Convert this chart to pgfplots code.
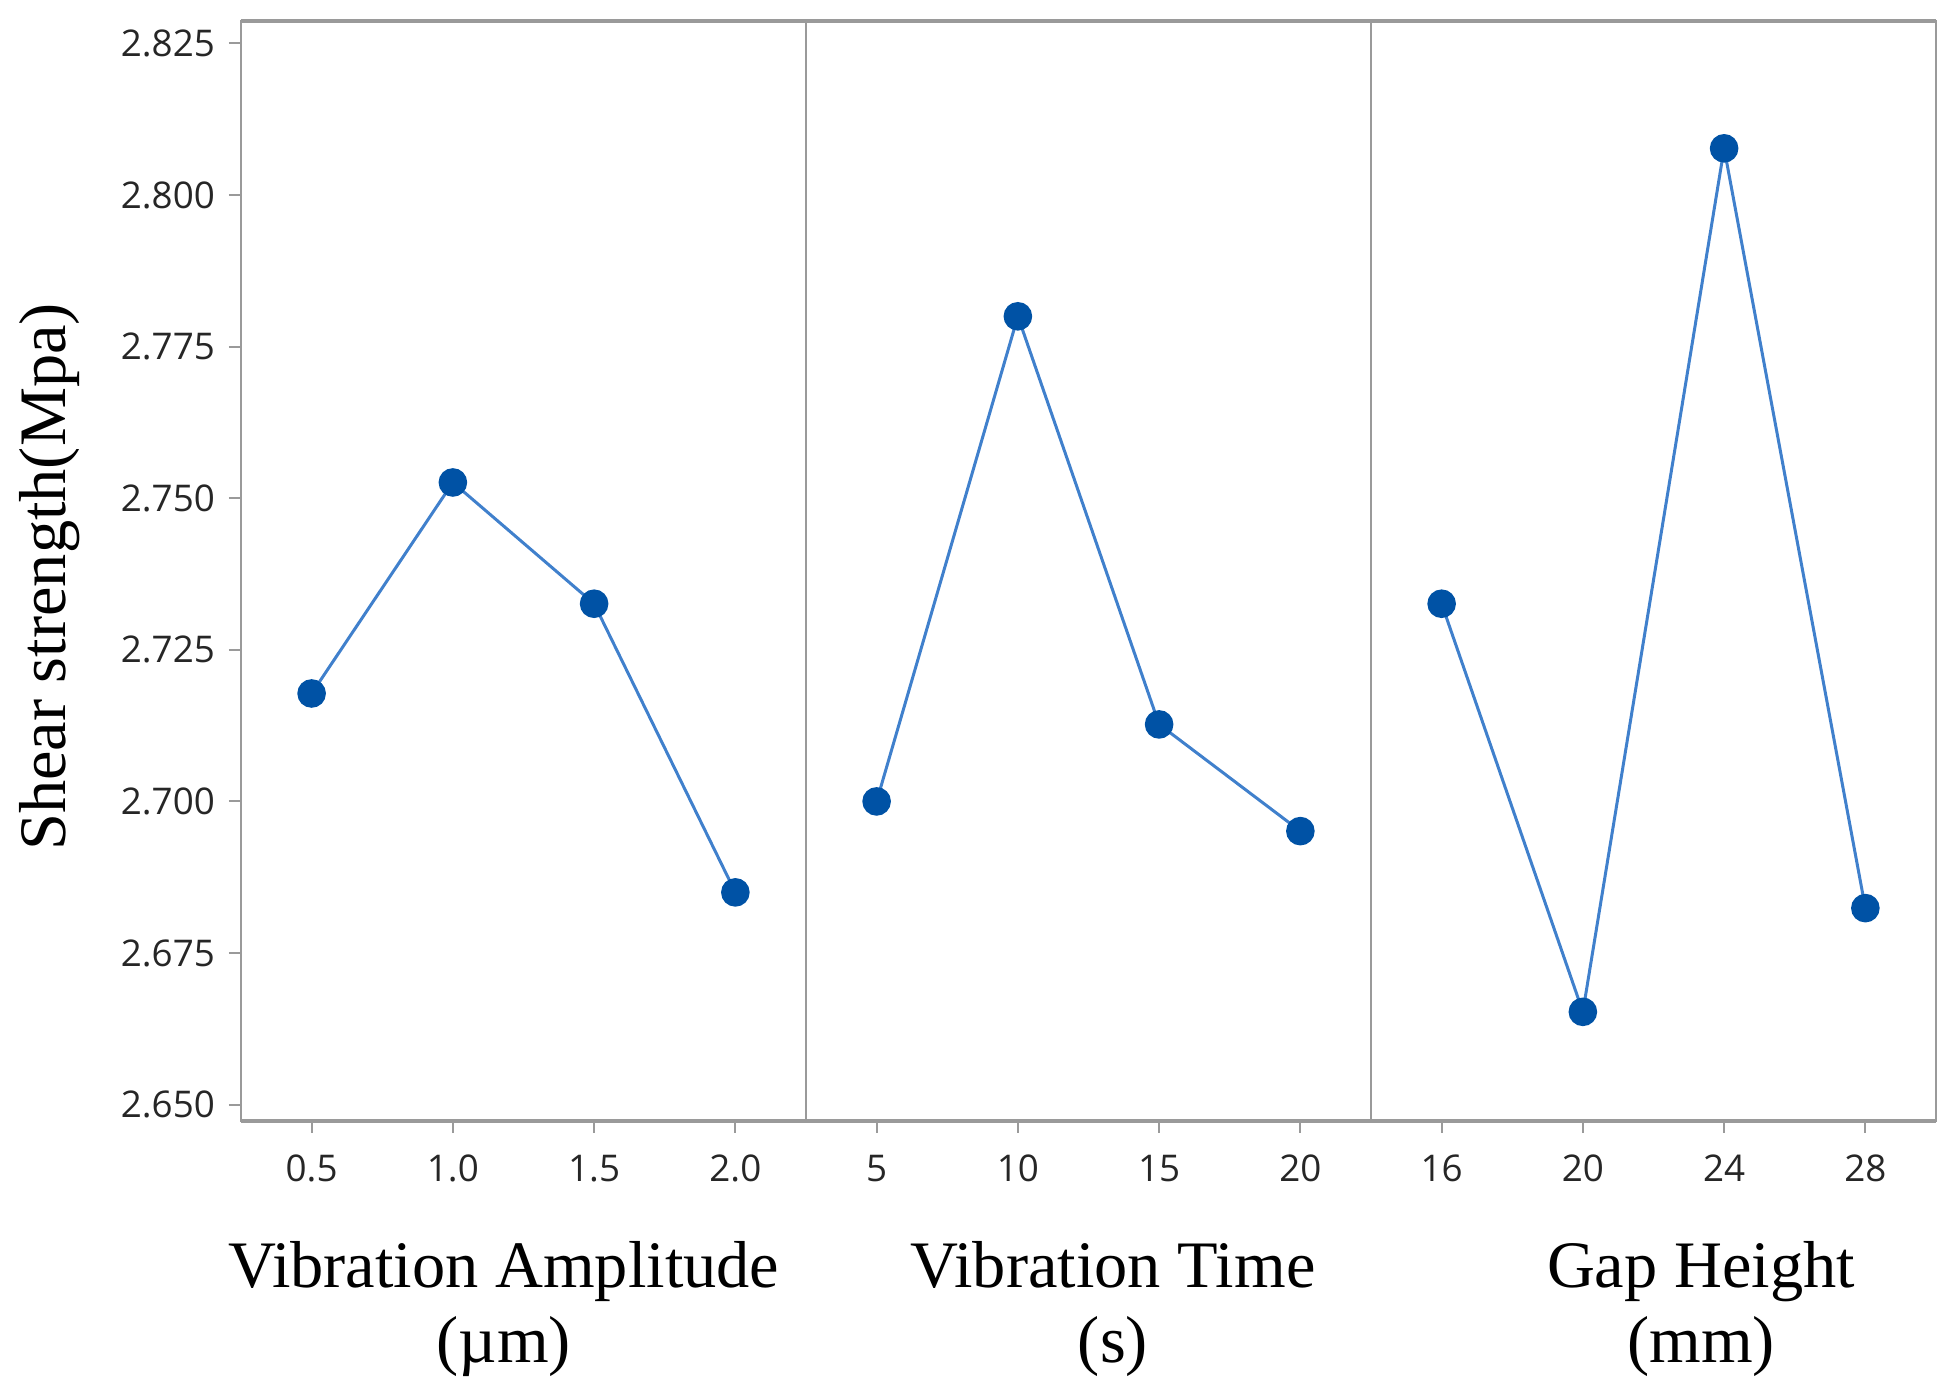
\documentclass[border=0pt]{standalone}
\usepackage{fontspec}
\setmainfont{Liberation Serif}
\newfontfamily\tickfont{Open Sans}
\usepackage{pgfplots}
\pgfplotsset{compat=1.18}
\definecolor{mk}{HTML}{0052A5}
\definecolor{ln}{HTML}{4080CC}
\definecolor{fr}{HTML}{9A9A9A}
\pgfplotsset{
  panel/.style={
    scale only axis, width=141.25pt, height=275pt,
    ymin=2.6473, ymax=2.8287,
    axis line style={draw=fr, line width=0.6pt},
    tick style={draw=fr, line width=0.5pt},
    tick align=outside, major tick length=3pt,
    xtick pos=bottom, ytick pos=left,
    tick label style={font=\tickfont\fontsize{9.2}{11}\selectfont, text=black!85},
    /pgf/number format/assume math mode=true,
    xticklabel shift=2pt,
  },
  ser/.style={color=ln, line width=0.75pt, mark=*, mark size=3.2pt,
    mark options={draw=mk, fill=mk}},
}
\begin{document}
\begin{tikzpicture}
\useasboundingbox (-60.25pt,-67.5pt) rectangle (427.5pt,280.25pt);
\begin{axis}[panel, at={(0pt,0pt)}, anchor=south west,
  xmin=0.25, xmax=2.25, xtick={0.5,1.0,1.5,2.0},
  xticklabel style={/pgf/number format/.cd, fixed, fixed zerofill, precision=1},
  ytick={2.650,2.675,2.700,2.725,2.750,2.775,2.800,2.825},
  yticklabel style={/pgf/number format/.cd, fixed, fixed zerofill, precision=3}]
\addplot[ser] coordinates {(0.5,2.7178) (1.0,2.7526) (1.5,2.7326) (2.0,2.6850)};
\end{axis}
\begin{axis}[panel, at={(141.25pt,0pt)}, anchor=south west,
  xmin=2.5, xmax=22.5, xtick={5,10,15,20}, ytick=\empty]
\addplot[ser] coordinates {(5,2.7000) (10,2.7800) (15,2.7127) (20,2.6951)};
\end{axis}
\begin{axis}[panel, at={(282.5pt,0pt)}, anchor=south west,
  xmin=14, xmax=30, xtick={16,20,24,28}, ytick=\empty]
\addplot[ser] coordinates {(16,2.7326) (20,2.6653) (24,2.8077) (28,2.6824)};
\end{axis}
\draw[fr, line width=1pt] (0,0) -- (423.75pt,0);
\draw[fr, line width=1pt] (0,275pt) -- (423.75pt,275pt);
\begin{scope}[font=\fontsize{16.6}{18}\selectfont]
\node[rotate=90] at (-47.75pt,136pt) {Shear strength(Mpa)};
\node[anchor=base] at (65.7pt,-41.6pt) {Vibration Amplitude};
\node[anchor=base] at (65.7pt,-60.4pt) {(µm)};
\node[anchor=base] at (218pt,-41.6pt) {Vibration Time};
\node[anchor=base] at (218pt,-60.4pt) {(s)};
\node[anchor=base] at (365pt,-41.6pt) {Gap Height};
\node[anchor=base] at (365pt,-60.4pt) {(mm)};
\end{scope}
\end{tikzpicture}
\end{document}
